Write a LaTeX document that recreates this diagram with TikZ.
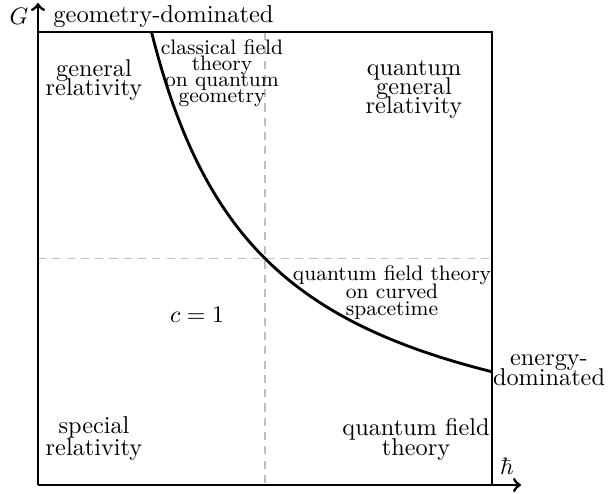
\documentclass[tikz,border=0pt]{standalone}
\newcommand{\fsz}[2]{\fontsize{#1}{#2}\selectfont\lineskiplimit=-100pt\relax}
\begin{document}
\begin{tikzpicture}[x=0.42pt,y=-0.42pt,
  frame/.style={line width=1.2pt},
  axis/.style={line width=1.2pt,->},
  guide/.style={line width=0.45pt,draw=black!25,dash pattern=on 3.4pt off 2.6pt},
  lbl/.style={align=center,inner sep=0pt},
  small/.style={lbl,font=\fsz{8.8}{#1}},
  normal/.style={lbl,font=\fsz{10.2}{#1}}]
\useasboundingbox (0,0) rectangle (610,494);
% corners
\coordinate (O) at (38,485);
\coordinate (TL) at (38,32);
\coordinate (TR) at (492,32);
\coordinate (BR) at (492,485);
\coordinate (Xend) at (521,485);
\coordinate (Yend) at (38,3);
\coordinate (MT) at (265,32);
\coordinate (MB) at (265,485);
\coordinate (ML) at (38,258.5);
\coordinate (MR) at (492,258.5);
% guides
\draw[guide] (MT) -- (MB);
\draw[guide] (ML) -- (MR);
% frame
\draw[frame] (TL) -- (TR) -- (BR);
\draw[axis] (O) -- (Xend);
\draw[axis] (O) -- (Yend);
% curve  G*hbar = const
\draw[line width=1.2pt] plot[domain=1:4,samples=80,smooth] ({38+113.5*\x},{485-113.25*4/\x});
% axis labels
\node[anchor=base,inner sep=0pt] (G) at (19,25) {$G$};
\node[anchor=base,inner sep=0pt] (hbar) at (507,475) {$\hbar$};
\node[anchor=base west,inner sep=0pt,font=\fsz{10.3}{12}] (geo) at (53,23) {geometry-dominated};
\node[normal=8.4] (en) at (549,370) {energy-\\dominated};
% regions
\node[normal=8.1] (gr) at (94,80) {general\\relativity};
\node[small=6.7] (cft) at (222,73.5) {classical field\\theory\\on quantum\\geometry};
\node[normal=8.0] (qgr) at (414,89.5) {quantum\\general\\relativity};
\node[small=7.3] (qftc) at (392,293) {quantum field theory\\on curved\\spacetime};
\node[anchor=base,inner sep=0pt] (c1) at (197,323) {$c=1$};
\node[normal=9.1] (sr) at (94,438.5) {special\\relativity};
\node[normal=8.4] (qft) at (416,439) {quantum field\\theory};
\end{tikzpicture}
\end{document}
